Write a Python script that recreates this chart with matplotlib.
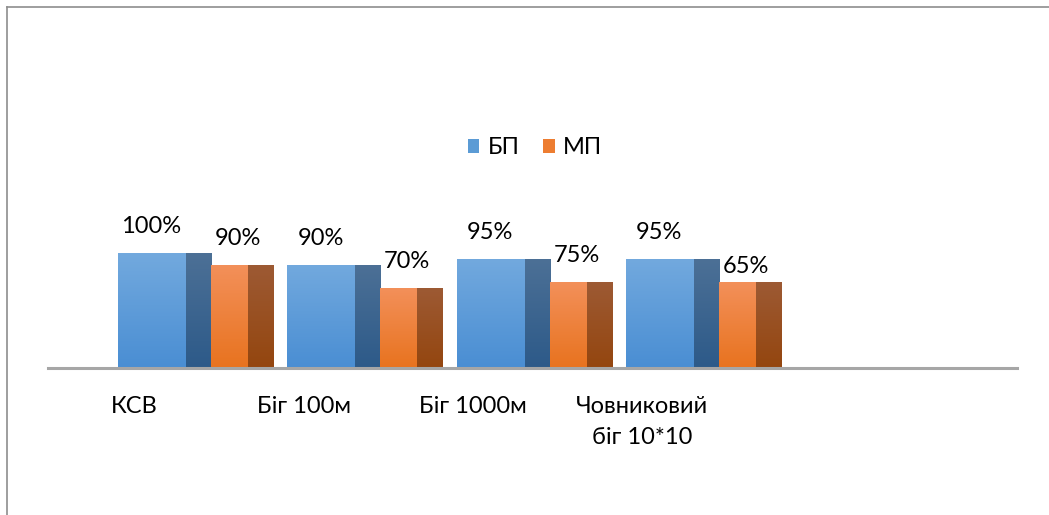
import numpy as np
import matplotlib
matplotlib.use('Agg')
import matplotlib.pyplot as plt
from matplotlib.patches import Patch
from matplotlib.lines import Line2D
from matplotlib.colors import LinearSegmentedColormap

categories = ['КСВ', 'Біг 100м', 'Біг 1000м', 'Човниковий\nбіг 10*10']
series_names = ['БП', 'МП']
bp = [100, 90, 95, 95]
mp = [90, 70, 75, 65]
# in the picture the last МП column is drawn as tall as the 75% one
mp_bar = [90, 70, 75, 75]

plt.rcParams['font.family'] = ['Lato', 'DejaVu Sans']
FS = 17

fig = plt.figure(figsize=(10.49, 5.15), dpi=100)
ax = fig.add_axes([48/1049, 147/515, 969/1049, 115/515])
x = np.arange(len(categories))


def shaded_bar(x0, w, h, top_col, bot_col):
    # bar with a vertical colour gradient (excel-ish look)
    bar = ax.bar(x0, h, width=w, align='edge', color='none', linewidth=0)[0]
    grad = np.linspace(0, 1, 64).reshape(-1, 1)
    cmap = LinearSegmentedColormap.from_list('g', [bot_col, top_col])
    im = ax.imshow(grad, cmap=cmap, extent=(x0, x0 + w, 0, h), origin='lower',
                   aspect='auto', zorder=2)
    im.set_clip_path(bar)


for i in range(len(categories)):
    shaded_bar(x[i] - 0.458, 0.402, bp[i], '#72a9de', '#4a8ed3')
    shaded_bar(x[i] - 0.056, 0.148, bp[i], '#4c7096', '#2d5a89')
    shaded_bar(x[i] + 0.092, 0.218, mp_bar[i], '#f3905a', '#e8731f')
    shaded_bar(x[i] + 0.310, 0.148, mp_bar[i], '#9d5a34', '#94460f')
    ax.annotate(f'{bp[i]}%', (x[i] - 0.26, bp[i]), xytext=(0, 19),
                textcoords='offset points', ha='center', va='center',
                fontsize=FS, annotation_clip=False)
    ax.annotate(f'{mp[i]}%', (x[i] + 0.25, mp[i]), xytext=(0, 19),
                textcoords='offset points', ha='center', va='center',
                fontsize=FS, annotation_clip=False)

ax.set_xlim(-0.871, 4.852)
ax.set_ylim(0, 100)
ax.set_xticks(x - 0.36, categories, fontsize=FS, linespacing=1.6)
ax.set_yticks([])
ax.tick_params(axis='x', length=0, pad=20)
for s in ['left', 'top', 'right']:
    ax.spines[s].set_visible(False)
ax.spines['bottom'].set_color('#a6a6a6')
ax.spines['bottom'].set_linewidth(2.2)
ax.patch.set_alpha(0)

handles = [Patch(facecolor='#5b9bd5'), Patch(facecolor='#ed7d31')]
fig.legend(handles, series_names, loc='center', bbox_to_anchor=(535/1049, 1 - 148/515),
           ncol=2, frameon=False, handlelength=0.5, handleheight=0.5,
           handletextpad=0.35, columnspacing=1.0, fontsize=FS,
           borderpad=0, borderaxespad=0)

# chart area border (only top and left visible)
fig.add_artist(Line2D([7/1049, 1], [1 - 7/515, 1 - 7/515], transform=fig.transFigure,
                      color='#8e8e8e', lw=1.2))
fig.add_artist(Line2D([7/1049, 7/1049], [0, 1 - 7/515], transform=fig.transFigure,
                      color='#8e8e8e', lw=1.2))

fig.savefig('out.png', dpi=100)
